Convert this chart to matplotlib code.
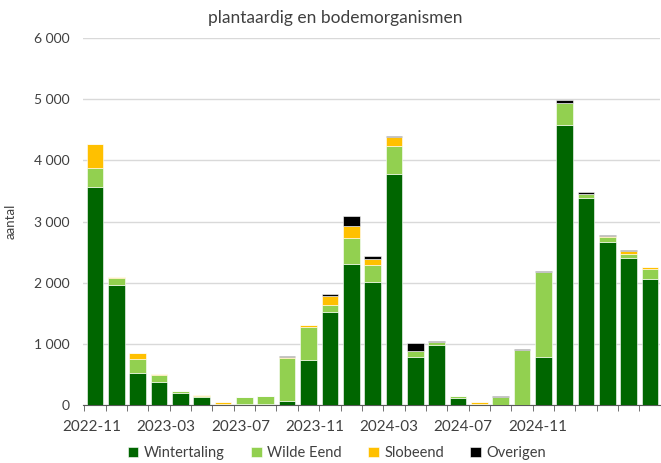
import matplotlib
matplotlib.use("Agg")
import matplotlib.pyplot as plt
import numpy as np
from matplotlib.ticker import FuncFormatter, FixedLocator

# counts per survey (27 surveys, Nov 2022 onwards)
wintertaling = [3570, 1955, 520, 380, 205, 135, 10, 20, 25, 70, 735, 1520, 2305, 2010,
                3770, 790, 975, 110, 5, 5, 5, 785, 4580, 3390, 2670, 2410, 2055]
wilde_eend = [310, 115, 235, 120, 30, 15, 15, 105, 125, 700, 535, 110, 430, 280,
              470, 95, 60, 35, 20, 135, 895, 1390, 365, 60, 70, 55, 175]
slobeend = [385, 30, 90, 5, 0, 15, 20, 0, 0, 20, 35, 155, 200, 90,
            145, 5, 0, 0, 20, 0, 0, 0, 0, 0, 25, 50, 25]
overigen = [0, 0, 0, 0, 0, 0, 0, 10, 0, 8, 0, 35, 160, 65,
            15, 120, 10, 5, 0, 5, 10, 25, 40, 25, 15, 15, 0]

tick_labels = ["2022-11", "2023-03", "2023-07", "2023-11", "2024-03", "2024-07", "2024-11"]
days_per_bar = 35.0

series = [
    ("Wintertaling", wintertaling, "#006600"),
    ("Wilde Eend", wilde_eend, "#92D050"),
    ("Slobeend", slobeend, "#FFC000"),
    ("Overigen", overigen, "#000000"),
]

plt.rcParams["font.family"] = ["Lato", "DejaVu Sans"]
plt.rcParams["font.size"] = 10

fig = plt.figure(figsize=(6.61, 4.63), dpi=100)
ax = fig.add_axes([0.126, 0.125, 0.872, 0.793])

x = np.arange(len(wintertaling))
bottom = np.zeros(len(x))
for name, vals, col in series:
    vals = np.array(vals, dtype=float)
    ax.bar(x, vals, 0.78, bottom=bottom, color=col, label=name,
           edgecolor="white", linewidth=0.4, zorder=3)
    bottom += vals

ax.set_ylim(0, 6000)
ax.set_yticks(np.arange(0, 6001, 1000))
ax.yaxis.set_major_formatter(FuncFormatter(lambda v, p: f"{int(v):,}".replace(",", " ")))
ax.grid(axis="y", color="#d9d9d9", linewidth=1, zorder=0)
ax.tick_params(axis="y", length=0, pad=10, labelsize=10, colors="#404040")

ax.set_xlim(-0.55, len(x) - 0.55)
# label positions: month starts expressed in survey units
month_offsets = np.arange(len(tick_labels)) * 4
label_pos = -0.15 + month_offsets * 30.44 / days_per_bar
ax.xaxis.set_major_locator(FixedLocator(label_pos))
ax.set_xticklabels(tick_labels)
ax.xaxis.set_minor_locator(FixedLocator(np.arange(len(x) + 1) - 0.5))
ax.tick_params(axis="x", which="major", length=0, pad=11, labelsize=11, colors="#404040")
ax.tick_params(axis="x", which="minor", length=4, color="#595959", direction="out")

for s in ["top", "right", "left"]:
    ax.spines[s].set_visible(False)
ax.spines["bottom"].set_color("#595959")

ax.set_ylabel("aantal", fontsize=9.5, color="#404040", labelpad=12)
fig.suptitle("plantaardig en bodemorganismen", x=0.507, y=0.978, fontsize=12.5,
             color="#404040")

fig.legend(loc="lower center", bbox_to_anchor=(0.51, -0.022), ncol=4, frameon=False,
           handlelength=0.7, handleheight=0.7, handletextpad=0.4, columnspacing=1.8,
           fontsize=10.5, labelcolor="#404040")

fig.savefig("out.png", dpi=100)
